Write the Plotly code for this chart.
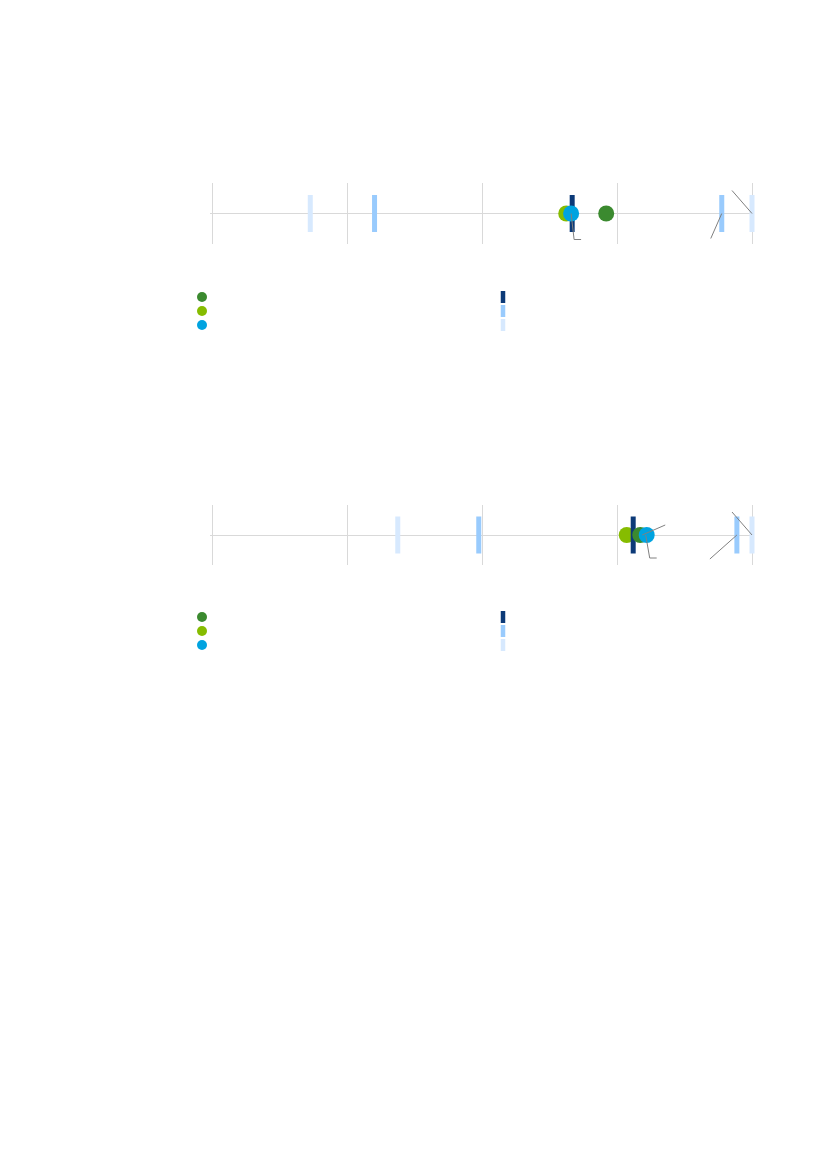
import plotly.graph_objects as go

# two panels, scale 0-100
panels = ["top", "bottom"]
grid_ticks = [0, 25, 50, 75, 100]

# dot series
green_vals = [73.0, 79.3]
lime_vals = [65.6, 76.8]
cyan_vals = [66.5, 80.5]

# bar (tick) series
navy_vals = [66.7, 78.0]
medium_lo = [30.1, 49.4]
medium_hi = [94.4, 97.2]
light_lo = [18.2, 34.4]
light_hi = [100.0, 100.0]

# page body has an 8px margin, so the figure is drawn 8px in
OFF = 8
W, H = 827 - 2 * OFF, 1169 - 2 * OFF
GRID = "#d9d9d9"
C_GREEN = "#3b8a2f"
C_LIME = "#86bc00"
C_CYAN = "#00a3e0"
C_NAVY = "#0c3a78"
C_MED = "#99cbfd"
C_LIGHT = "#d7e9fe"

# pixel boxes (page coords) of each panel (top, bottom)
boxes = [(183, 244), (505, 565)]
legend_rows = [[297, 311, 325], [617, 631, 645]]
legend_cols = [174, 475]    # figure px of the left edge of each key column
X0, X1 = 212, 752          # page px of 0 and 100
PAD = 0.3                  # small range pad so the edge gridlines are drawn
ppu = (X1 - X0) / 100.0
dom_x = [(X0 - OFF - PAD * ppu) / W, (X1 - OFF + PAD * ppu) / W]

# line-ns markers are 1.4 * size long
BAR_SIZE = 37 / 1.4
KEY_SIZE = 12 / 1.4

fig = go.Figure()


def px_y(v):
    return 1 - (v - OFF) / H


leg_count = 0


def new_legend(col, row_y):
    # one legend per key so the rows can sit 14px apart
    global leg_count
    leg_count += 1
    key = "legend" if leg_count == 1 else "legend%d" % leg_count
    fig.layout[key] = dict(x=legend_cols[col] / W, y=px_y(row_y),
                           xanchor="left", yanchor="middle", itemsizing="trace",
                           font=dict(size=9), bgcolor="rgba(0,0,0,0)")
    return key


for i, p in enumerate(panels):
    n = "" if i == 0 else str(i + 1)
    xa, ya = "x" + n, "y" + n

    def bar(xs, color):
        fig.add_trace(go.Scatter(
            x=xs, y=[0] * len(xs), xaxis=xa, yaxis=ya, mode="markers",
            marker=dict(symbol="line-ns", size=BAR_SIZE, line=dict(width=5, color=color)),
            cliponaxis=False, hoverinfo="x", showlegend=False))

    def dot(x, color):
        fig.add_trace(go.Scatter(
            x=[x], y=[0], xaxis=xa, yaxis=ya, mode="markers",
            marker=dict(size=16, color=color),
            cliponaxis=False, hoverinfo="x", showlegend=False))

    bar([light_lo[i], light_hi[i]], C_LIGHT)
    bar([medium_lo[i], medium_hi[i]], C_MED)
    dot(lime_vals[i], C_LIME)
    bar([navy_vals[i]], C_NAVY)
    dot(green_vals[i], C_GREEN)
    dot(cyan_vals[i], C_CYAN)

    # legend keys (labels are blank in the source)
    for row, c in enumerate([C_GREEN, C_LIME, C_CYAN]):
        fig.add_trace(go.Scatter(x=[None], y=[None], xaxis=xa, yaxis=ya, mode="markers",
                                 marker=dict(size=10, color=c), name=" ",
                                 legend=new_legend(0, legend_rows[i][row])))
    for row, c in enumerate([C_NAVY, C_MED, C_LIGHT]):
        fig.add_trace(go.Scatter(x=[None], y=[None], xaxis=xa, yaxis=ya, mode="markers",
                                 marker=dict(symbol="line-ns", size=KEY_SIZE,
                                             line=dict(width=4.5, color=c)),
                                 name=" ", legend=new_legend(1, legend_rows[i][row])))

    top, bot = boxes[i]
    fig.layout["xaxis" + n] = dict(
        domain=dom_x, range=[-PAD, 100 + PAD], anchor=ya,
        tickvals=grid_ticks, showticklabels=False, showgrid=True,
        gridcolor=GRID, gridwidth=1, zeroline=False, showline=False, ticks="")
    fig.layout["yaxis" + n] = dict(
        domain=[px_y(bot), px_y(top)], range=[-1, 1], anchor=xa,
        showticklabels=False, showgrid=False, zeroline=True,
        zerolinecolor=GRID, zerolinewidth=1, ticks="")

# leader lines of the (unlabelled) callouts, offsets in pixels
leaders = [
    (0, cyan_vals[0], "M0,0 L3,-26 L10,-26"),
    (0, medium_hi[0], "M0,0 L-11,-25"),
    (0, light_hi[0], "M0,0 L-20,23"),
    (1, green_vals[1], "M2,0 L25,10"),
    (1, cyan_vals[1], "M-1,0 L3,-23 L10,-23"),
    (1, medium_hi[1], "M0,0 L-27,-24"),
    (1, light_hi[1], "M0,0 L-20,23"),
]
for i, xv, path in leaders:
    n = "" if i == 0 else str(i + 1)
    fig.add_shape(type="path", xref="x" + n, yref="y" + n,
                  xsizemode="pixel", ysizemode="pixel", xanchor=xv, yanchor=0,
                  path=path, line=dict(color="#808080", width=1))

fig.update_layout(
    width=W, height=H, margin=dict(l=0, r=0, t=0, b=0),
    paper_bgcolor="white", plot_bgcolor="white",
    font=dict(family="Open Sans", color="#333333"),
)

fig.write_html("out.html")
